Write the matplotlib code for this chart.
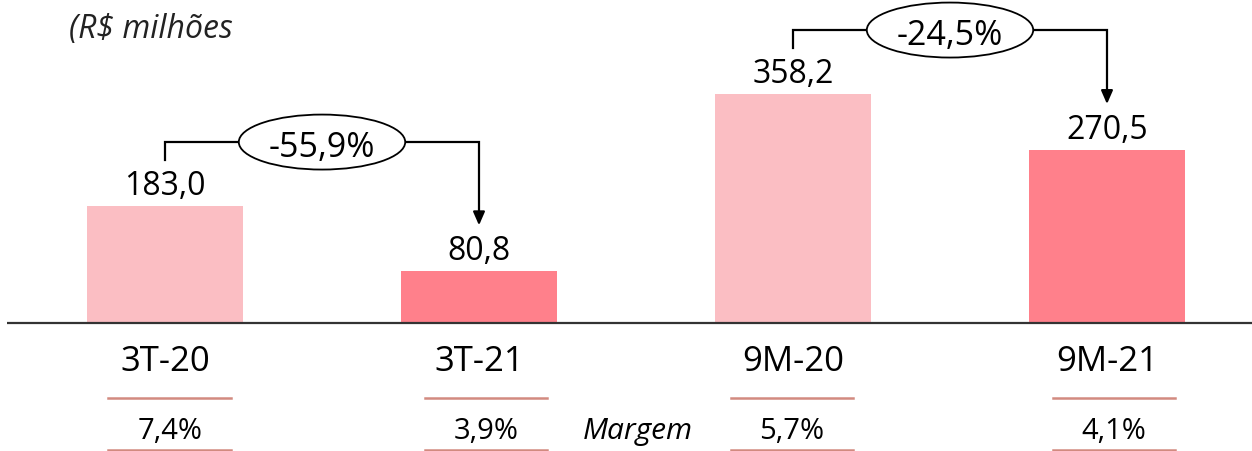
import matplotlib
matplotlib.use("Agg")
import matplotlib.pyplot as plt
from matplotlib.patches import Ellipse

# Data (R$ milhões)
categories = ["3T-20", "3T-21", "9M-20", "9M-21"]
values = [183.0, 80.8, 358.2, 270.5]
value_labels = ["183,0", "80,8", "358,2", "270,5"]
margins = ["7,4%", "3,9%", "5,7%", "4,1%"]
changes = ["-55,9%", "-24,5%"]
change_pairs = [(0, 1), (2, 3)]

light = "#FBBEC3"
dark = "#FF808B"
bar_colors = [light, dark, light, dark]
rule_color = "#D28A80"

plt.rcParams["font.family"] = ["Open Sans", "DejaVu Sans"]

fig = plt.figure(figsize=(12.52, 4.51), dpi=100)
ax = fig.add_axes([0, 0, 1, 1])
ax.set_xlim(-0.5255, 3.4618)
ax.set_ylim(-200.2, 505.2)
ax.axis("off")

x = list(range(len(categories)))
ax.bar(x, values, width=0.497, color=bar_colors, zorder=2)

# baseline
ax.plot([-0.503, 3.4618], [0, 0], color="#333333", lw=1.6, zorder=3,
        solid_capstyle="butt")

for xi, v, lab in zip(x, values, value_labels):
    ax.text(xi, v + 17, lab, ha="center", va="baseline", fontsize=23,
            color="black")

for xi, c in zip(x, categories):
    ax.text(xi, -75, c, ha="center", va="baseline", fontsize=25, color="black")

# margin row
offsets = [0.015, 0.022, -0.003, 0.022]
for xi, off, m in zip(x, offsets, margins):
    cx = xi + off
    ax.plot([cx - 0.195, cx + 0.195], [-117, -117], color=rule_color, lw=1.8)
    ax.plot([cx - 0.195, cx + 0.195], [-199, -199], color=rule_color, lw=1.8)
    ax.text(cx, -181.5, m, ha="center", va="baseline", fontsize=21,
            color="black")

ax.text(1.506, -181.5, "Margem", ha="center", va="baseline", fontsize=21.5,
        style="italic", color="black")

ax.text(-0.306, 446, "(R$ milhões", ha="left", va="baseline", fontsize=23,
        style="italic", color="#222222")

# change brackets
for (i, j), txt in zip(change_pairs, changes):
    y0 = values[i] + 72
    yh = values[i] + 100
    y1 = values[j] + 72
    ax.plot([i, i, j, j], [y0, yh, yh, y1 + 20], color="black", lw=1.6,
            zorder=4, solid_joinstyle="miter")
    ax.annotate("", xy=(j, y1), xytext=(j, y1 + 22),
                arrowprops=dict(arrowstyle="-|>,head_width=0.35,head_length=0.8",
                                color="black", lw=1.6, shrinkA=0, shrinkB=0))
    cx = (i + j) / 2
    ax.add_patch(Ellipse((cx, yh), 0.53, 86, facecolor="white",
                         edgecolor="black", lw=1.3, zorder=5))
    ax.text(cx, yh - 23.5, txt, ha="center", va="baseline", fontsize=24.5,
            color="black", zorder=6)

fig.savefig("out.png", dpi=100)
